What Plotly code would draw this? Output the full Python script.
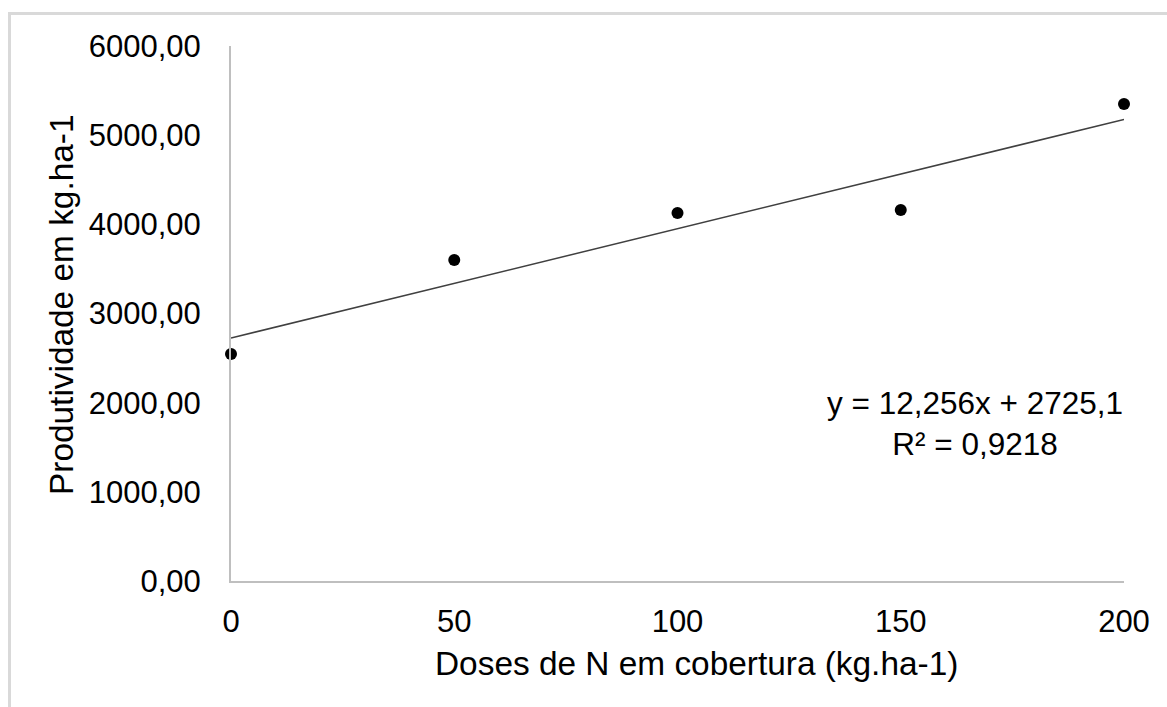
import plotly.graph_objects as go

doses = [0, 50, 100, 150, 200]
produtividade = [2546, 3600, 4127, 4160, 5349]
slope = 12.256
intercept = 2725.1
r2_text = "R² = 0,9218"
eq_text = "y = 12,256x + 2725,1"
y_ticks = [0, 1000, 2000, 3000, 4000, 5000, 6000]
x_ticks = [0, 50, 100, 150, 200]
x_title = "Doses de N em cobertura (kg.ha-1)"
y_title = "Produtividade em kg.ha-1"

trend_x = [min(doses), max(doses)]
trend_y = [slope * v + intercept for v in trend_x]

FONT = "Liberation Sans, Arial, sans-serif"
L, R, T, B, W, H = 231, 43, 46, 126, 1167, 707
PW, PH = W - L - R, H - T - B


def px(xp):
    return (xp - L) / PW


def py(yp):
    return (H - B - yp) / PH


fig = go.Figure()
fig.add_trace(go.Scatter(x=trend_x, y=trend_y, mode="lines",
                         line=dict(color="#404040", width=1.5),
                         hoverinfo="skip", showlegend=False, cliponaxis=False))
fig.add_trace(go.Scatter(x=doses, y=produtividade, mode="markers",
                         marker=dict(color="black", size=12),
                         showlegend=False, cliponaxis=False))

fig.update_layout(
    width=W, height=H,
    margin=dict(l=L, r=R, t=T, b=B),
    paper_bgcolor="white", plot_bgcolor="white",
    separators=",.",
    font=dict(family=FONT, size=31, color="black"),
    xaxis=dict(range=[0, 200], tickvals=x_ticks, showgrid=False,
               showline=True, linecolor="#bfbfbf", linewidth=2,
               zeroline=False, ticks="", ticklabelstandoff=12),
    yaxis=dict(range=[0, 6000], tickvals=y_ticks, tickformat=".2f",
               showgrid=False, showline=True, linecolor="#bfbfbf",
               linewidth=2, zeroline=False, ticks="", ticklabelstandoff=22),
    annotations=[
        dict(x=166.6, y=1761, xref="x", yref="y",
             text=eq_text + "<br>" + r2_text, showarrow=False,
             align="center", xanchor="center", yanchor="middle",
             font=dict(size=31.5)),
        dict(x=px(696), y=py(663), xref="paper", yref="paper",
             text=x_title, showarrow=False, xanchor="center",
             yanchor="middle", font=dict(size=33.4)),
        dict(x=px(61), y=py(305), xref="paper", yref="paper",
             text=y_title, showarrow=False, textangle=-90,
             xanchor="center", yanchor="middle", font=dict(size=33.4)),
    ],
    shapes=[dict(type="rect", xref="paper", yref="paper",
                 x0=px(9.5), x1=px(1250), y0=py(760), y1=py(13.5),
                 line=dict(color="#d9d9d9", width=3), layer="below")],
)

fig.write_html("out.html")
